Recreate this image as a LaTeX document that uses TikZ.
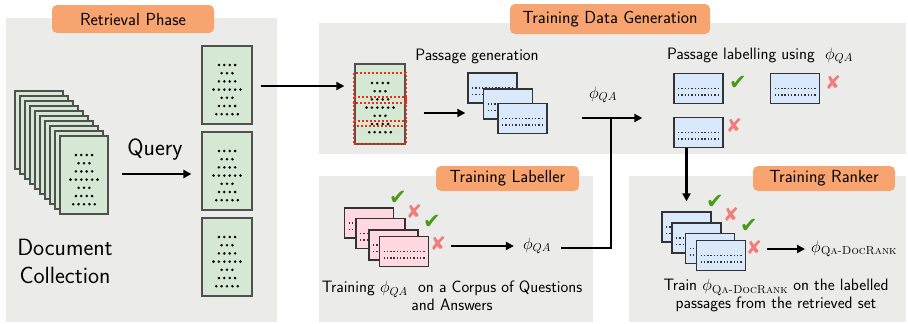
\RequirePackage{fix-cm}
\documentclass[tikz,border=0pt]{standalone}
\usepackage{amsmath}
\usepackage{fontspec}
\newfontfamily\symfont{DejaVu Sans}
\usetikzlibrary{arrows.meta,calc}
\definecolor{panel}{HTML}{EBEBEA}
\definecolor{tagor}{HTML}{F8A470}
\definecolor{docg}{HTML}{D5E8D4}
\definecolor{docb}{HTML}{505050}
\definecolor{psgb}{HTML}{DAE8FC}
\definecolor{psgd}{HTML}{333333}
\definecolor{pinkb}{HTML}{FFD8E0}
\definecolor{chkg}{HTML}{4A9A16}
\definecolor{crsr}{HTML}{F27C7C}
\definecolor{redd}{HTML}{F22A10}
\newcommand\docdots[2]{%
  \foreach \nd [count=\ii] in {4,3,4,6,3,4,5}{%
    \foreach \kk in {1,...,\nd}{%
      \fill ({#1+(\kk-(\nd+1)/2)*5.4},{#2+19+(\ii-1)*8.2}) circle[radius=1.4pt];
    }}}
\begin{document}
\begin{tikzpicture}[x=1pt,y=-1pt,
  arr/.style={line width=2.4pt,-{Triangle[length=8pt,width=8pt]}},
  conn/.style={line width=2.4pt},
  tag/.style={fill=tagor,rounded corners=5pt,inner sep=0pt,minimum height=28pt,font=\sffamily\fontsize{17.5}{20}\selectfont},
  gdoc/.style={fill=docg,draw=docb,line width=1.2pt,inner sep=0pt,minimum width=48pt,minimum height=78pt},
  dotln/.style={line width=1.4pt,dash pattern=on 1.4pt off 1.9pt},
  psg/.style={fill=psgb,draw=psgd,line width=1.3pt,inner sep=0pt,minimum width=49pt,minimum height=30pt,
    path picture={
      \draw[dotln] ([xshift=4pt,yshift=-15pt]path picture bounding box.north west) -- ([xshift=-4pt,yshift=-15pt]path picture bounding box.north east);
      \draw[dotln] ([xshift=4pt,yshift=-21.5pt]path picture bounding box.north west) -- ([xshift=-4pt,yshift=-21.5pt]path picture bounding box.north east);}},
  pbox/.style={psg,fill=pinkb},
  chk/.style={text=chkg,inner sep=0pt,font=\symfont\fontsize{21}{21}\selectfont},
  crs/.style={text=crsr,inner sep=0pt,font=\symfont\fontsize{19}{19}\selectfont},
  txt/.style={inner sep=0pt,font=\sffamily\fontsize{16.5}{17.5}\selectfont,align=center},
  reddot/.style={draw=redd,line width=2.2pt,dash pattern=on 2.2pt off 1.8pt}
]
\useasboundingbox (0,0) rectangle (908,324);
% panels
\fill[panel] (6,18) rectangle (277,322);
\fill[panel] (319,23) rectangle (906,154);
\fill[panel] (319,176) rectangle (593,322);
\fill[panel] (629,176) rectangle (906,322);
% tags
\node[tag,minimum width=162pt] (t1) at (133,19) {Retrieval Phase};
\node[tag,minimum width=200pt,minimum height=30pt] (t2) at (610,19) {Training Data Generation};
\node[tag,minimum width=143pt,minimum height=25pt] (t3) at (507.5,178.5) {Training Labeller};
\node[tag,minimum width=142pt,minimum height=25pt] (t4) at (824,178.5) {Training Ranker};
% document collection
\foreach \i in {0,...,9}{\node[gdoc] (s\i) at ({39+5*\i},{130+5*\i}) {};}
\docdots{84}{136}
\node[inner sep=0pt,font=\sffamily\fontsize{23.5}{28}\selectfont,align=center] (dc) at (65,261) {Document\\Collection};
% retrieved
\node[gdoc,minimum width=50pt] (r1) at (227,85) {};
\node[gdoc,minimum width=50pt] (r2) at (227,171) {};
\node[gdoc,minimum width=50pt] (r3) at (227,257) {};
\docdots{227}{46}\docdots{227}{132}\docdots{227}{218}
\node[inner sep=0pt,font=\sffamily\fontsize{23.5}{28}\selectfont] (q) at (155,150) {Query};
\draw[arr] ($(s9.east)+(13,-1)$) -- ($(r2.west)+(-10,3)$);
% training data generation
\node[gdoc,minimum width=50pt,minimum height=80pt] (g) at (380,104) {};
\docdots{380}{64}
\draw[reddot] (354,73) rectangle (406,103);
\draw[reddot] (354,97) rectangle (406,126);
\draw[reddot] (354,121) rectangle (406,144);
\draw[arr] ($(r1.east)+(8,1)$) -- ($(r1.east -| g.west)+(-10,1)$);
\node[txt] (pg) at (477,56) {Passage generation};
\node[psg] (p1) at (492.5,88) {};
\node[psg] (p2) at (508,104) {};
\node[psg] (p3) at (522.5,118.5) {};
\draw[arr] ($(g.east)+(18,9)$) -- ($(g.east -| p1.west)+(-2,9)$);
\node[txt] (pl) at (760,56) {Passage labelling using \ $\phi_{QA}$};
\node[psg] (lb1) at (698.5,88.5) {};
\node[psg] (lb2) at (795,88.5) {};
\node[psg] (lb3) at (698.5,132.5) {};
\node[chk] (c1) at (738,83) {✔};
\node[crs] (x1) at (833,82) {✘};
\node[crs] (x2) at (734,125) {✘};
\node[txt] (phiT) at (603,95) {$\phi_{QA}$};
% training labeller
\node[pbox] (lab1) at (369,223) {};
\node[pbox] (lab2) at (380.5,233.5) {};
\node[pbox] (lab3) at (393.5,245) {};
\node[pbox] (lab4) at (404,251.5) {};
\node[chk] (c2) at (398,198) {✔};
\node[crs] (x3) at (414,211) {✘};
\node[chk] (c3) at (432,222) {✔};
\node[crs] (x4) at (438,243) {✘};
\node[txt] (phiL) at (537,246) {$\phi_{QA}$};
\draw[arr] ($(lab4.east)+(22,-5.5)$) -- ($(phiL.west)+(-9,0)$);
\node[txt] (dl) at (452,295.5) {Training $\phi_{QA}$\ \ on a Corpus of Questions\\and Answers};
\coordinate (J) at (611,118);
\draw[conn] ($(phiL.east)+(10,2)$) -| (J);
\draw[arr] ($(J)+(-29,0)$) -- ($(lb3.west |- J)+(-31,0)$);
% training ranker
\node[psg] (rk1) at (686.5,227) {};
\node[psg] (rk2) at (696.5,238) {};
\node[psg] (rk3) at (710,248.5) {};
\node[psg] (rk4) at (721,255.5) {};
\node[chk] (c4) at (715,202) {✔};
\node[crs] (x5) at (731,214) {✘};
\node[chk] (c5) at (749,226) {✔};
\node[crs] (x6) at (754,247) {✘};
\draw[arr] (lb3.south -| rk1.north) -- ($(rk1.north)+(0,-10)$);
\node[txt,anchor=west] (phiR) at (811,249) {$\phi_{\text{\rmfamily\scshape Qa-DocRank}}$};
\draw[arr] ($(rk4.east)+(21,-6.5)$) -- ($(phiR.west)+(-6,0)$);
\node[txt] (dr) at (776,295.5) {Train $\phi_{\text{\rmfamily\scshape Qa-DocRank}}$ on the labelled\\passages from the retrieved set};
\end{tikzpicture}
\end{document}
